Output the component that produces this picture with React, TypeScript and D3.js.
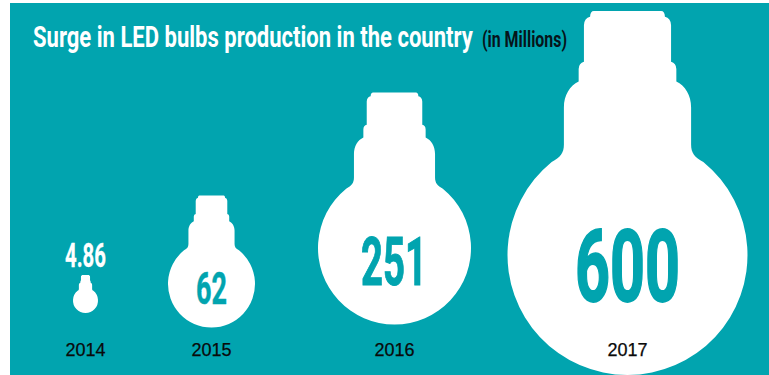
import React, { useLayoutEffect, useRef } from "react";
import * as d3 from "d3";

const years = ["2014", "2015", "2016", "2017"];
const production = [4.86, 62, 251, 600];
const valueLabels = ["4.86", "62", "251", "600"];
const titleMain = "Surge in LED bulbs production in the country";
const titleUnit = "(in Millions)";

const TEAL = "#01a4af";
const condensed = "Roboto, 'Liberation Sans Narrow', sans-serif";

// Bulb radius per value, and the horizontal / baseline slots of each year.
const radius = d3.scaleSqrt().domain(production).range([12.5, 43.5, 76.5, 120]);
const centerX = d3.scaleOrdinal<string, number>().domain(years).range([85.5, 211.5, 394.5, 627.5]);
const bulbBottom = d3.scaleOrdinal<string, number>().domain(years).range([313, 327.5, 324.5, 375]);

// Outline of a bulb, in units of the globe radius, measured from the globe centre.
function bulbPath(cx: number, cy: number, r: number): string {
  const X = (u: number) => cx + u * r;
  const Y = (v: number) => cy + v * r;
  const a = Math.atan2(-0.775, 0.632);
  const p = d3.path();
  p.moveTo(X(-0.28), Y(-2.033));
  p.lineTo(X(0.28), Y(-2.033));
  p.quadraticCurveTo(X(0.31), Y(-2.033), X(0.312), Y(-1.985));
  p.quadraticCurveTo(X(0.36), Y(-1.975), X(0.363), Y(-1.915));
  p.lineTo(X(0.363), Y(-1.61));
  p.quadraticCurveTo(X(0.405), Y(-1.6), X(0.407), Y(-1.55));
  p.lineTo(X(0.407), Y(-1.445));
  p.bezierCurveTo(X(0.48), Y(-1.41), X(0.53), Y(-1.33), X(0.53), Y(-1.23));
  p.lineTo(X(0.53), Y(-0.92));
  p.bezierCurveTo(X(0.53), Y(-0.85), X(0.56), Y(-0.81), X(0.632), Y(-0.775));
  // Globe, clockwise round the bottom to the mirrored shoulder
  p.arc(cx, cy, r, a, Math.PI - a, false);
  p.bezierCurveTo(X(-0.56), Y(-0.81), X(-0.53), Y(-0.85), X(-0.53), Y(-0.92));
  p.lineTo(X(-0.53), Y(-1.23));
  p.bezierCurveTo(X(-0.53), Y(-1.33), X(-0.48), Y(-1.41), X(-0.407), Y(-1.445));
  p.lineTo(X(-0.407), Y(-1.55));
  p.quadraticCurveTo(X(-0.405), Y(-1.6), X(-0.363), Y(-1.61));
  p.lineTo(X(-0.363), Y(-1.915));
  p.quadraticCurveTo(X(-0.36), Y(-1.975), X(-0.312), Y(-1.985));
  p.quadraticCurveTo(X(-0.31), Y(-2.033), X(-0.28), Y(-2.033));
  p.closePath();
  return p.toString();
}

// Text squeezed horizontally to a target width, so a regular face reads as a condensed one.
function FitText(props: {
  x: number;
  y: number;
  width: number;
  size: number;
  fill: string;
  weight: number;
  embolden?: number;
  children: string;
}) {
  const ref = useRef<SVGTextElement>(null);
  useLayoutEffect(() => {
    const node = ref.current;
    if (!node) return;
    const sx = props.width / node.getComputedTextLength();
    node.setAttribute("transform", `translate(${props.x},${props.y}) scale(${sx},1)`);
  });
  return (
    <text
      ref={ref}
      fontFamily={condensed}
      fontWeight={props.weight}
      fontSize={props.size}
      fill={props.fill}
      stroke={props.embolden ? props.fill : "none"}
      strokeWidth={props.embolden ?? 0}
    >
      {props.children}
    </text>
  );
}

// Value text placement: left edge, width, baseline and size per year.
const labelLeft = [65, 196, 361, 575];
const labelWidth = [41, 31, 66, 105];
const labelBaseline = [267, 304, 285, 301];
const labelSize = [33, 45, 66, 101];
const labelBold = [0.3, 0.5, 1, 1.8];
const labelFill = ["#ffffff", TEAL, TEAL, TEAL];

export default function App() {
  return (
    <svg width={769} height={375} style={{ position: "fixed", left: 0, top: 0, display: "block" }}>
      <rect x={10} y={3} width={759} height={372} fill={TEAL} />
      {years.map((y, i) => {
        const r = radius(production[i]);
        const cx = centerX(y);
        const cy = bulbBottom(y) - r;
        return (
          <g key={y}>
            <path d={bulbPath(cx, cy, r)} fill="#fff" />
            <FitText
              x={labelLeft[i]}
              y={labelBaseline[i]}
              width={labelWidth[i]}
              size={labelSize[i]}
              fill={labelFill[i]}
              weight={700}
              embolden={labelBold[i]}
            >
              {valueLabels[i]}
            </FitText>
            <text
              x={cx}
              y={356}
              textAnchor="middle"
              fontFamily="'Liberation Sans', sans-serif"
              fontSize={18}
              fill="#0a0a0a"
              stroke="#0a0a0a"
              strokeWidth={0.25}
            >
              {y}
            </text>
          </g>
        );
      })}
      <FitText x={33} y={46.5} width={440} size={29} fill="#fff" weight={700}>
        {titleMain}
      </FitText>
      <FitText x={482} y={47} width={85} size={22} fill="#06141a" weight={700}>
        {titleUnit}
      </FitText>
    </svg>
  );
}
